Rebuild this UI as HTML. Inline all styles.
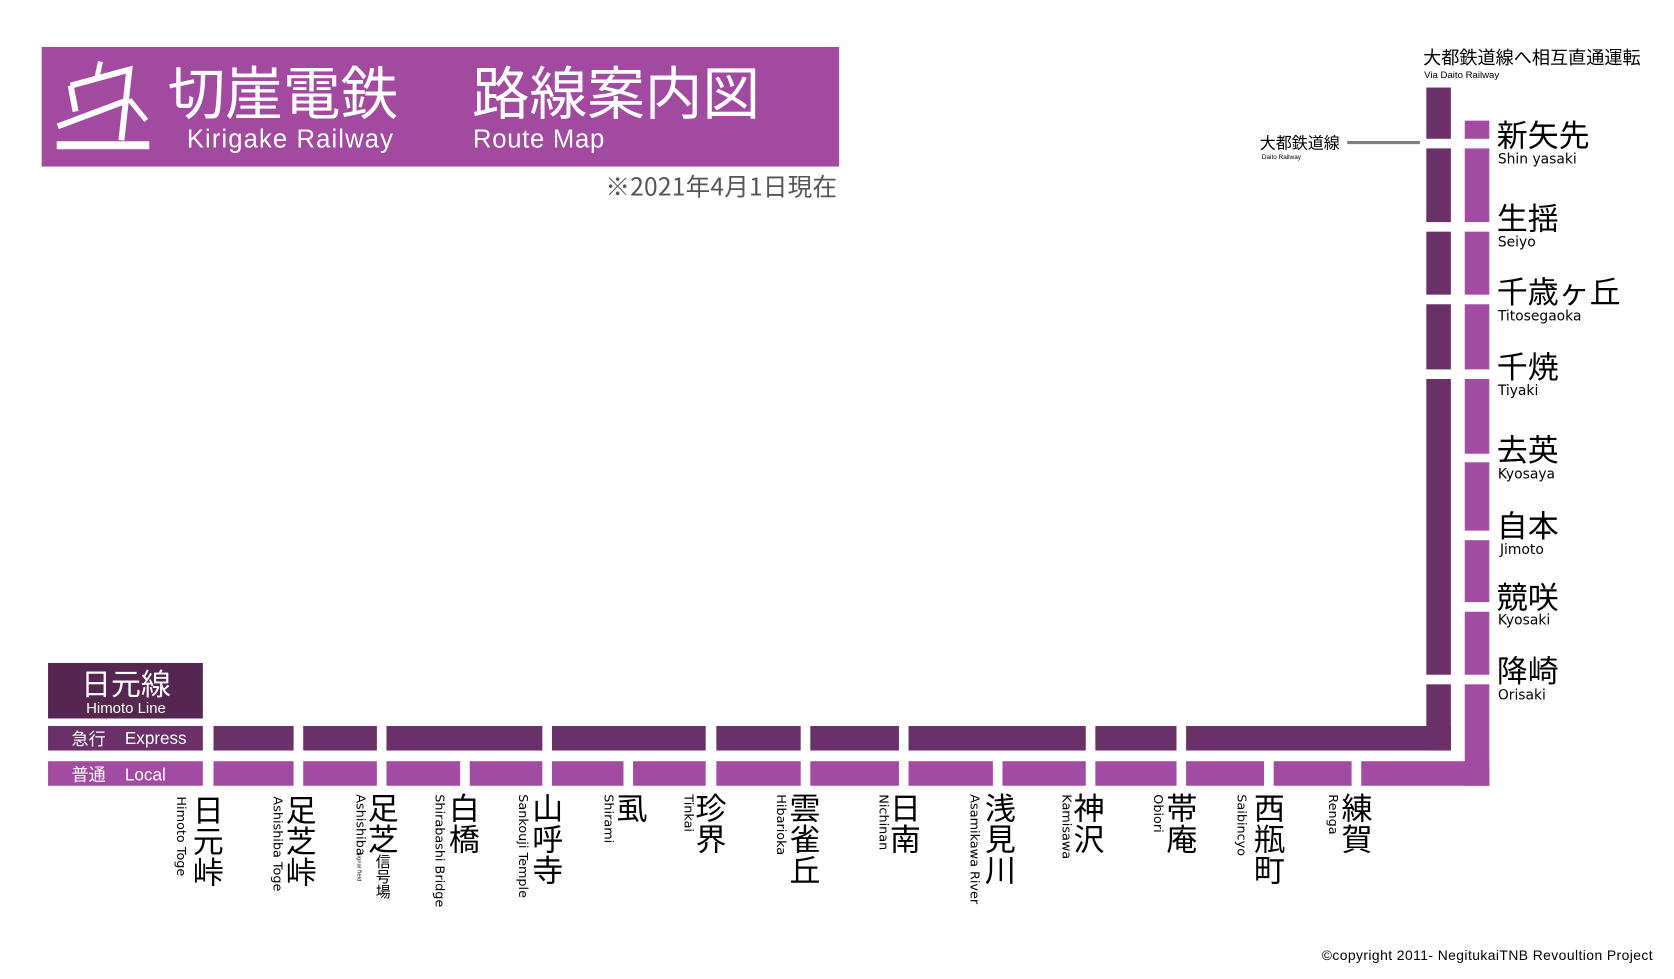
<!DOCTYPE html>
<html><head><meta charset="utf-8"><style>
html,body{margin:0;padding:0;background:#fff;}
svg{display:block}
text{font-family:"Liberation Sans","Noto Sans CJK JP",sans-serif;}
.jp,.jp text{font-family:"Noto Sans CJK JP",sans-serif;}
.rm,.rm text{font-family:"DejaVu Sans",sans-serif;}
</style></head><body>
<svg width="1674" height="979" viewBox="0 0 1568 917" xmlns="http://www.w3.org/2000/svg">
<rect x="0" y="0" width="1568" height="917" fill="#fff"/>
<!-- header -->
<rect x="39" y="44" width="747" height="112" fill="#A24AA0"/>
<g transform="scale(0.932)" fill="none" stroke="#fff" stroke-linejoin="miter">
  <polyline points="71,86 130,70 122,141" stroke-width="6"/>
  <polyline points="71,86 76,112" stroke-width="6"/>
  <line x1="58" y1="127" x2="130" y2="100" stroke-width="6"/>
  <line x1="130" y1="100" x2="147" y2="121" stroke-width="5"/>
  <line x1="101" y1="62" x2="97" y2="80" stroke-width="5"/>
  <rect x="57" y="142" width="93" height="8" fill="#fff" stroke="none"/>
</g>
<text x="157" y="107" class="jp" font-size="54" fill="#fff">切崖電鉄</text>
<text x="175" y="138" font-size="24" fill="#fff" textLength="193">Kirigake Railway</text>
<text x="442" y="107" class="jp" font-size="54" fill="#fff">路線案内図</text>
<text x="443" y="138" font-size="24" fill="#fff" textLength="123">Route Map</text>
<text x="784" y="183" text-anchor="end" font-size="23" fill="#555" class="jp" textLength="217">※2021年4月1日現在</text>

<!-- top right labels -->
<text x="1333" y="60" class="jp" font-size="17" fill="#000">大都鉄道線へ相互直通運転</text>
<text x="1334" y="73" font-size="9" fill="#000">Via Daito Railway</text>
<text x="1180" y="139" class="jp" font-size="15" fill="#000">大都鉄道線</text>
<text x="1182" y="149" font-size="6" fill="#000">Daito Railway</text>
<rect x="1262" y="132" width="68" height="3" fill="#808080"/>

<!-- vertical express -->
<g fill="#6A3068">
<rect x="1336" y="82" width="23" height="48"/>
<rect x="1336" y="139" width="23" height="69"/>
<rect x="1336" y="217" width="23" height="59"/>
<rect x="1336" y="285" width="23" height="61"/>
<rect x="1336" y="355" width="23" height="277"/>
<rect x="1336" y="641" width="23" height="62"/>
</g>
<g fill="#A24BA2">
<rect x="1372" y="113" width="23" height="17"/>
<rect x="1372" y="139" width="23" height="69"/>
<rect x="1372" y="217" width="23" height="59"/>
<rect x="1372" y="285" width="23" height="61"/>
<rect x="1372" y="355" width="23" height="70"/>
<rect x="1372" y="433" width="23" height="64"/>
<rect x="1372" y="506" width="23" height="58"/>
<rect x="1372" y="573" width="23" height="59"/>
<rect x="1372" y="641" width="23" height="95"/>
</g>
<!-- horizontal express -->
<g fill="#6A3068">
<rect x="45" y="680" width="145" height="23"/>
<rect x="200" y="680" width="75" height="23"/>
<rect x="284" y="680" width="69" height="23"/>
<rect x="362" y="680" width="146" height="23"/>
<rect x="517" y="680" width="144" height="23"/>
<rect x="671" y="680" width="79" height="23"/>
<rect x="759" y="680" width="83" height="23"/>
<rect x="851" y="680" width="166" height="23"/>
<rect x="1026" y="680" width="76" height="23"/>
<rect x="1111" y="680" width="248" height="23"/>
</g>
<g fill="#A24BA2">
<rect x="45" y="713" width="145" height="23"/>
<rect x="200" y="713" width="75" height="23"/>
<rect x="284" y="713" width="69" height="23"/>
<rect x="362" y="713" width="69" height="23"/>
<rect x="440" y="713" width="68" height="23"/>
<rect x="517" y="713" width="67" height="23"/>
<rect x="593" y="713" width="68" height="23"/>
<rect x="671" y="713" width="79" height="23"/>
<rect x="759" y="713" width="83" height="23"/>
<rect x="851" y="713" width="79" height="23"/>
<rect x="939" y="713" width="78" height="23"/>
<rect x="1026" y="713" width="76" height="23"/>
<rect x="1111" y="713" width="73" height="23"/>
<rect x="1193" y="713" width="73" height="23"/>
<rect x="1275" y="713" width="120" height="23"/>
</g>
<rect x="45" y="621" width="145" height="52" fill="#55264F"/>
<text x="118" y="651" text-anchor="middle" class="jp" font-size="28" fill="#fff">日元線</text>
<text x="118" y="668" text-anchor="middle" font-size="14" fill="#fff">Himoto Line</text>
<text x="67" y="698" class="jp" font-size="16" fill="#fff">急行</text>
<text x="117" y="697" font-size="16" fill="#fff">Express</text>
<text x="67" y="731" class="jp" font-size="16" fill="#fff">普通</text>
<text x="117" y="731" font-size="16" fill="#fff">Local</text>

<!-- right stations -->
<g class="jp" font-size="29" fill="#000">
<text x="1402" y="137">新矢先</text>
<text x="1402" y="215">生揺</text>
<text x="1402" y="284">千歳ヶ丘</text>
<text x="1402" y="354">千焼</text>
<text x="1402" y="432">去英</text>
<text x="1402" y="503">自本</text>
<text x="1402" y="570">競咲</text>
<text x="1402" y="639">降崎</text>
</g>
<g class="rm" font-size="13" fill="#000">
<text x="1403" y="153">Shin yasaki</text>
<text x="1403" y="231">Seiyo</text>
<text x="1403" y="300">Titosegaoka</text>
<text x="1403" y="370">Tiyaki</text>
<text x="1403" y="448">Kyosaya</text>
<text x="1405" y="519">Jimoto</text>
<text x="1403" y="585">Kyosaki</text>
<text x="1403" y="655">Orisaki</text>
</g>

<!-- bottom stations -->
<g class="jp" font-size="29" fill="#000" style="writing-mode:vertical-rl" writing-mode="tb">
<text x="195" y="744">日元峠</text>
<text x="282" y="744">足芝峠</text>
<text x="359" y="742">足芝</text>
<text x="435" y="742">白橋</text>
<text x="513" y="742">山呼寺</text>
<text x="592" y="742">虱</text>
<text x="666" y="742">珍界</text>
<text x="754" y="742">雲雀丘</text>
<text x="848" y="742">日南</text>
<text x="937" y="742">浅見川</text>
<text x="1020" y="742">神沢</text>
<text x="1107" y="742">帯庵</text>
<text x="1189" y="742">西瓶町</text>
<text x="1271" y="742">練賀</text>
</g>
<text x="359" y="800" class="jp" font-size="14" style="writing-mode:vertical-rl" writing-mode="tb">信号場</text>
<g class="rm" font-size="12" fill="#000">
<text transform="translate(166,746) rotate(90)">Himoto Toge</text>
<text transform="translate(256,746) rotate(90)">Ashishiba Toge</text>
<text transform="translate(334,744) rotate(90)">Ashishiba</text>
<text transform="translate(408,744) rotate(90)">Shirabashi Bridge</text>
<text transform="translate(486,744) rotate(90)">Sankouji Temple</text>
<text transform="translate(566,744) rotate(90)">Shirami</text>
<text transform="translate(641,744) rotate(90)">Tinkai</text>
<text transform="translate(728,744) rotate(90)">Hibarioka</text>
<text transform="translate(824,744) rotate(90)">Nichinan</text>
<text transform="translate(909,744) rotate(90)">Asamikawa River</text>
<text transform="translate(995,744) rotate(90)">Kamisawa</text>
<text transform="translate(1081,744) rotate(90)">Obiori</text>
<text transform="translate(1159,744) rotate(90)">Saibincyo</text>
<text transform="translate(1245,744) rotate(90)">Renga</text>
</g>
<text transform="translate(335,798) rotate(90)" class="rm" font-size="5">Signal field</text>

<text x="1548" y="899" text-anchor="end" font-size="13" fill="#000" textLength="310">©copyright 2011- NegitukaiTNB Revoultion Project</text>
</svg>
</body></html>
